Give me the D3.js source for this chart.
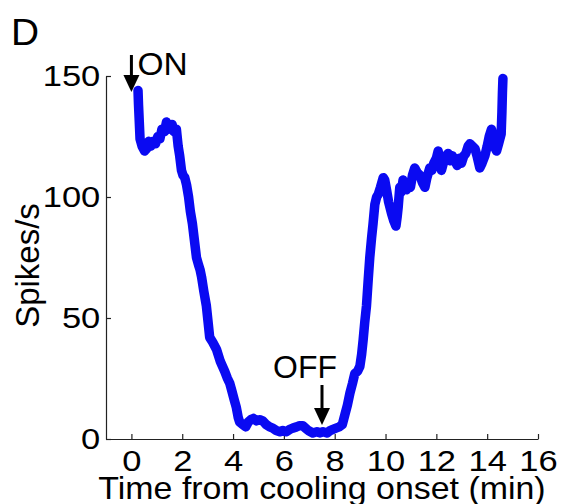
<!DOCTYPE html>
<html>
<head>
<meta charset="utf-8">
<script src="https://cdn.jsdelivr.net/npm/d3@7"></script>
<style>
  html, body { margin: 0; padding: 0; background: #fff; }
  svg { display: block; font-family: "Liberation Sans", Arial, sans-serif; }
</style>
</head>
<body>
<svg id="chart" width="567" height="504"></svg>
<script>
// ---- data ----
const timeMin = [0.26,0.28,0.31,0.34,0.42,0.52,0.6,0.68,0.76,0.86,0.95,1.04,1.12,1.2,1.3,1.38,1.46,1.52,1.6,1.68,1.77,1.84,1.9,1.97,2.03,2.1,2.17,2.25,2.32,2.4,2.48,2.56,2.64,2.7,2.76,2.85,2.95,3.02,3.08,3.2,3.35,3.5,3.67,3.78,3.87,3.95,4.05,4.13,4.2,4.26,4.38,4.5,4.6,4.7,4.8,4.92,5.05,5.17,5.3,5.44,5.56,5.7,5.84,5.96,6.1,6.23,6.35,6.5,6.62,6.74,6.85,6.96,7.05,7.14,7.3,7.42,7.54,7.7,7.82,7.93,8.05,8.18,8.3,8.4,8.5,8.6,8.7,8.79,8.9,8.99,9.06,9.12,9.18,9.25,9.32,9.38,9.45,9.51,9.58,9.65,9.71,9.8,9.91,9.97,10.04,10.12,10.24,10.33,10.41,10.46,10.5,10.56,10.62,10.69,10.76,10.83,10.9,10.98,11.06,11.15,11.25,11.35,11.45,11.55,11.63,11.74,11.82,11.9,12.0,12.07,12.14,12.2,12.3,12.38,12.46,12.55,12.63,12.73,12.82,12.9,12.99,13.08,13.16,13.25,13.32,13.42,13.52,13.6,13.71,13.8,13.91,14.0,14.08,14.17,14.25,14.32,14.37,14.45,14.55,14.58,14.6,14.62];
const spikeRate = [144,138,131,124,121,119,120,123,121,123,122,125,124,128,127,131,128,129,130,127,128,121,117,111,109,108,105,100,94,89,82,75,72,70,67,61,55,48,42,40,37,32,28,25,23,20,16,13,9,7,6,5,7,8,8.5,7.5,8,7.5,6,5,4.5,3.5,3,3.5,3,4,4.5,5,5.5,5.5,4.5,3.5,3,2.5,3,2.5,3,2.5,3.5,4,4.5,5,6,10,14,19,23,27,28,30,35,41,48,55,66,75,83,89,97,100,101,104,108,107,103,98,93,90,88,92,96,104,102,107,105,103,106,104,109,112,110,109,106,104,108,112,111,114,116,119,114,111,115,117,118,115,117,115,113,116,114,117,118,121,122,121,120,117,112,114,117,121,125,128,124,120,119,122,126,135,143,149];
const xTicks = [0,2,4,6,8,10,12,14,16];
const yTicks = [0,50,100,150];
const onTime = 0;
const offTime = 7.5;

const svg = d3.select("#chart");
const x = d3.scaleLinear().domain([-1, 16]).range([106, 538]);
const y = d3.scaleLinear().domain([0, 150]).range([439, 76]);
const FS = 30;
const SX = 1.15; // text in the reference is slightly wide

// axes
const xAxis = d3.axisBottom(x).tickValues(xTicks).tickSizeInner(-5).tickSizeOuter(0).tickPadding(11);
const yAxis = d3.axisLeft(y).tickValues(yTicks).tickSizeInner(-5).tickSizeOuter(0).tickPadding(5);

const gx = svg.append("g").attr("transform", `translate(0,${y(0)})`).call(xAxis);
const gy = svg.append("g").attr("transform", `translate(${x(-1)},0)`).call(yAxis);
[gx, gy].forEach(g => {
  g.select(".domain").attr("stroke", "#222").attr("stroke-width", 1.2);
  g.selectAll(".tick line").attr("stroke", "#222").attr("stroke-width", 1.2);
  g.selectAll(".tick text").attr("font-size", FS).attr("fill", "#000")
    .attr("font-family", "'Liberation Sans', Arial, sans-serif")
    .attr("transform", `scale(${SX},1)`);
});

// data line
const line = d3.line().x((d, i) => x(timeMin[i])).y(d => y(d));
svg.append("path")
  .datum(spikeRate)
  .attr("d", line)
  .attr("fill", "none")
  .attr("stroke", "#0a0af2")
  .attr("stroke-width", 9.5)
  .attr("stroke-linejoin", "round")
  .attr("stroke-linecap", "round");

// helper: scaled text at a point
function label(px, py, txt, size, anchor, sx, rot) {
  svg.append("text")
    .attr("transform", `translate(${px},${py})${rot ? ` rotate(${rot})` : ""} scale(${sx},1)`)
    .attr("text-anchor", anchor).attr("font-size", size).attr("fill", "#000")
    .text(txt);
}

// axis labels
label((x(-1) + x(16)) / 2, 499, "Time from cooling onset (min)", 32, "middle", 1.06);
label(39, (y(0) + y(150)) / 2 + 8, "Spikes/s", 33, "middle", 1, -90);

// panel letter
label(11, 45, "D", 37, "start", 1.05);

// arrows
function arrow(xc, yTop, yTip) {
  svg.append("line").attr("x1", xc).attr("x2", xc).attr("y1", yTop).attr("y2", yTip - 14)
    .attr("stroke", "#000").attr("stroke-width", 3);
  svg.append("path")
    .attr("d", `M${xc - 8},${yTip - 17} L${xc + 8},${yTip - 17} L${xc},${yTip} Z`)
    .attr("fill", "#000");
}
arrow(x(onTime), 55, 92);
label(x(onTime) + 6, 75, "ON", 31, "start", 1.08);
arrow(x(offTime), 385, 425);
label(x(offTime) - 17, 378, "OFF", 31, "middle", 1.03);
</script>
</body>
</html>
